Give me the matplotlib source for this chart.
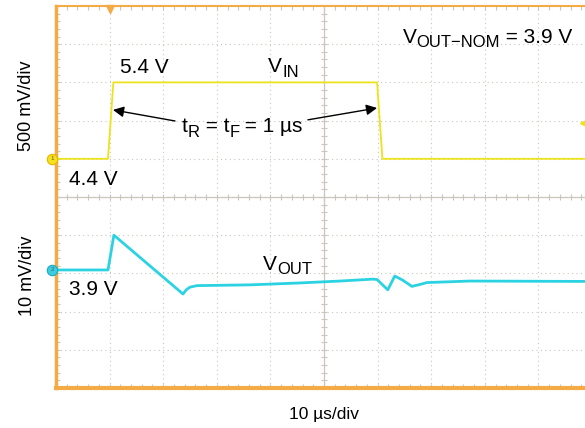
import matplotlib
matplotlib.use("Agg")
import matplotlib.pyplot as plt
import numpy as np

plt.rcParams["font.family"] = ["Liberation Sans", "DejaVu Sans"]

# scope settings
US_PER_DIV = 10.0
VIN_V_PER_DIV = 0.5
VOUT_MV_PER_DIV = 10.0
VIN_REF_V = 4.4        # level sitting on the channel 1 marker
VIN_REF_DIV = 6.0
VOUT_REF_DIV = 3.09    # 3.9 V on the channel 2 marker

# channel 1: input step
VIN_T_US = [0.0, 9.7, 10.7, 59.9, 60.9, 98.7]
VIN_V = [4.4, 4.4, 5.4, 5.4, 4.4, 4.4]

# channel 2: output deviation from 3.9 V, in mV
VOUT_T_US = [0.0, 9.7, 10.8, 23.7, 24.3, 25.0, 26.3, 36.2, 45.5, 53.0, 59.1,
             59.9, 61.9, 63.2, 64.6, 66.4, 67.9, 69.2, 77.2, 98.7]
VOUT_MV = [0.0, 0.0, 9.1, -6.3, -5.2, -4.5, -4.1, -3.9, -3.4, -2.9, -2.4,
           -2.5, -5.2, -1.6, -2.6, -4.3, -3.8, -3.3, -2.9, -3.0]

ORANGE = "#f5ab45"
GRID = "#cbc6bd"
YELLOW = "#ece31a"
CYAN = "#2bd3e2"
FS = 15
SUB_SCALE = 0.8
SUB_DROP = 3.2  # points

fig = plt.figure(figsize=(5.85, 4.28), dpi=100)
ax = fig.add_axes([56 / 585, 40 / 428, 529 / 585, 382 / 428])
x_max = 529 / 53.6
ax.set_xlim(0, x_max)
ax.set_ylim(0, 10)
renderer = fig.canvas.get_renderer()


def advance(s, size):
    # width in points, spaces included (measured between two sentinels)
    t1 = fig.text(0, 0, "X" + s + "X", fontsize=size)
    t2 = fig.text(0, 0, "XX", fontsize=size)
    w = t1.get_window_extent(renderer).width - t2.get_window_extent(renderer).width
    t1.remove()
    t2.remove()
    return w * 72 / fig.dpi


def sub_text(x, y, parts, ha="left"):
    sizes = [FS * SUB_SCALE if sub else FS for _, sub in parts]
    widths = [advance(s, sz) for (s, _), sz in zip(parts, sizes)]
    off = -sum(widths) / 2 if ha == "center" else 0.0
    for (s, sub), sz, w in zip(parts, sizes, widths):
        ax.annotate(s, xy=(x, y), xytext=(off, -SUB_DROP if sub else 0),
                    textcoords="offset points", fontsize=sz, ha="left", va="baseline",
                    zorder=6)
        off += w


# graticule
for x in range(1, 10):
    if x != 5:
        ax.axvline(x, color=GRID, lw=0.8, ls=(0, (1, 3)), zorder=1)
for y in range(1, 10):
    if y != 5:
        ax.axhline(y, color=GRID, lw=0.8, ls=(0, (1, 3)), zorder=1)
ax.axvline(5, color=GRID, lw=0.9, zorder=1)
ax.axhline(5, color=GRID, lw=0.9, zorder=1)
cx = np.arange(0.2, x_max, 0.2)
cy = np.arange(0.2, 10, 0.2)
ax.plot(cx, np.full_like(cx, 5), ls="none", marker="|", ms=4, mew=0.8, color=GRID, zorder=1)
ax.plot(np.full_like(cy, 5), cy, ls="none", marker="_", ms=4, mew=0.8, color=GRID, zorder=1)

ax.set_xticks(np.arange(0, 10, 1))
ax.set_yticks(np.arange(0, 11, 1))
ax.set_xticks(np.arange(0, x_max, 0.2), minor=True)
ax.set_yticks(np.arange(0, 10, 0.2), minor=True)
ax.tick_params(which="both", direction="in", top=True, bottom=True, left=True, right=False,
               length=3, width=0.8, color=GRID, labelbottom=False, labelleft=False)

for side, lw in (("left", 2.5), ("bottom", 3.0), ("top", 1.5)):
    ax.spines[side].set_color(ORANGE)
    ax.spines[side].set_linewidth(lw)
ax.spines["right"].set_visible(False)

# traces
vin_x = np.array(VIN_T_US) / US_PER_DIV
vin_y = VIN_REF_DIV + (np.array(VIN_V) - VIN_REF_V) / VIN_V_PER_DIV
ax.plot(vin_x, vin_y, color=YELLOW, lw=1.3, zorder=3)

vout_x = np.array(VOUT_T_US) / US_PER_DIV
vout_y = VOUT_REF_DIV + np.array(VOUT_MV) / VOUT_MV_PER_DIV
ax.plot(vout_x, vout_y, color=CYAN, lw=2.0, zorder=3)

# channel markers
for y, face, edge, label in ((VIN_REF_DIV, "#f6e21a", "#e8b400", "1"),
                             (VOUT_REF_DIV, "#39cfe0", "#1aa9bd", "2")):
    ax.plot(-0.07, y, marker="o", ms=7.5, mfc=face, mec=edge, mew=0.8, clip_on=False, zorder=5)
    ax.text(-0.07, y, label, fontsize=4.5, ha="center", va="center", color="#555555",
            clip_on=False, zorder=6)

# trigger markers
ax.plot(1.0, 9.93, marker="v", ms=6, color=ORANGE, clip_on=False, zorder=5)
ax.plot(x_max - 0.03, 6.94, marker="<", ms=5, color=YELLOW, clip_on=False, zorder=5)

# annotations
ax.text(1.19, 8.25, "5.4 V", fontsize=FS, zorder=6)
ax.text(0.24, 5.31, "4.4 V", fontsize=FS, zorder=6)
ax.text(0.24, 2.43, "3.9 V", fontsize=FS, zorder=6)
sub_text(3.96, 8.27, [("V", False), ("IN", True)])
sub_text(3.86, 3.09, [("V", False), ("OUT", True)])
sub_text(6.47, 9.03, [("V", False), ("OUT\u2212NOM", True), (" = 3.9 V", False)])
sub_text(2.35, 6.70, [("t", False), ("R", True), (" = t", False), ("F", True),
                      (" = 1 µs", False)])

arrow = dict(arrowstyle="-|>", color="black", lw=1.0, mutation_scale=16, shrinkA=0, shrinkB=0)
ax.annotate("", xy=(1.063, 7.28), xytext=(2.22, 6.99), arrowprops=arrow)
ax.annotate("", xy=(5.99, 7.33), xytext=(4.70, 7.02), arrowprops=arrow)

fig.text(27 / 585, 1 - 106 / 428, "500 mV/div", fontsize=13, rotation=90, ha="center", va="center")
fig.text(27 / 585, 1 - 276 / 428, "10 mV/div", fontsize=13, rotation=90, ha="center", va="center")
fig.text(324 / 585, 1 - 414 / 428, "10 µs/div", fontsize=12.5, ha="center", va="center")

fig.savefig("out.png", dpi=100, facecolor="white")
